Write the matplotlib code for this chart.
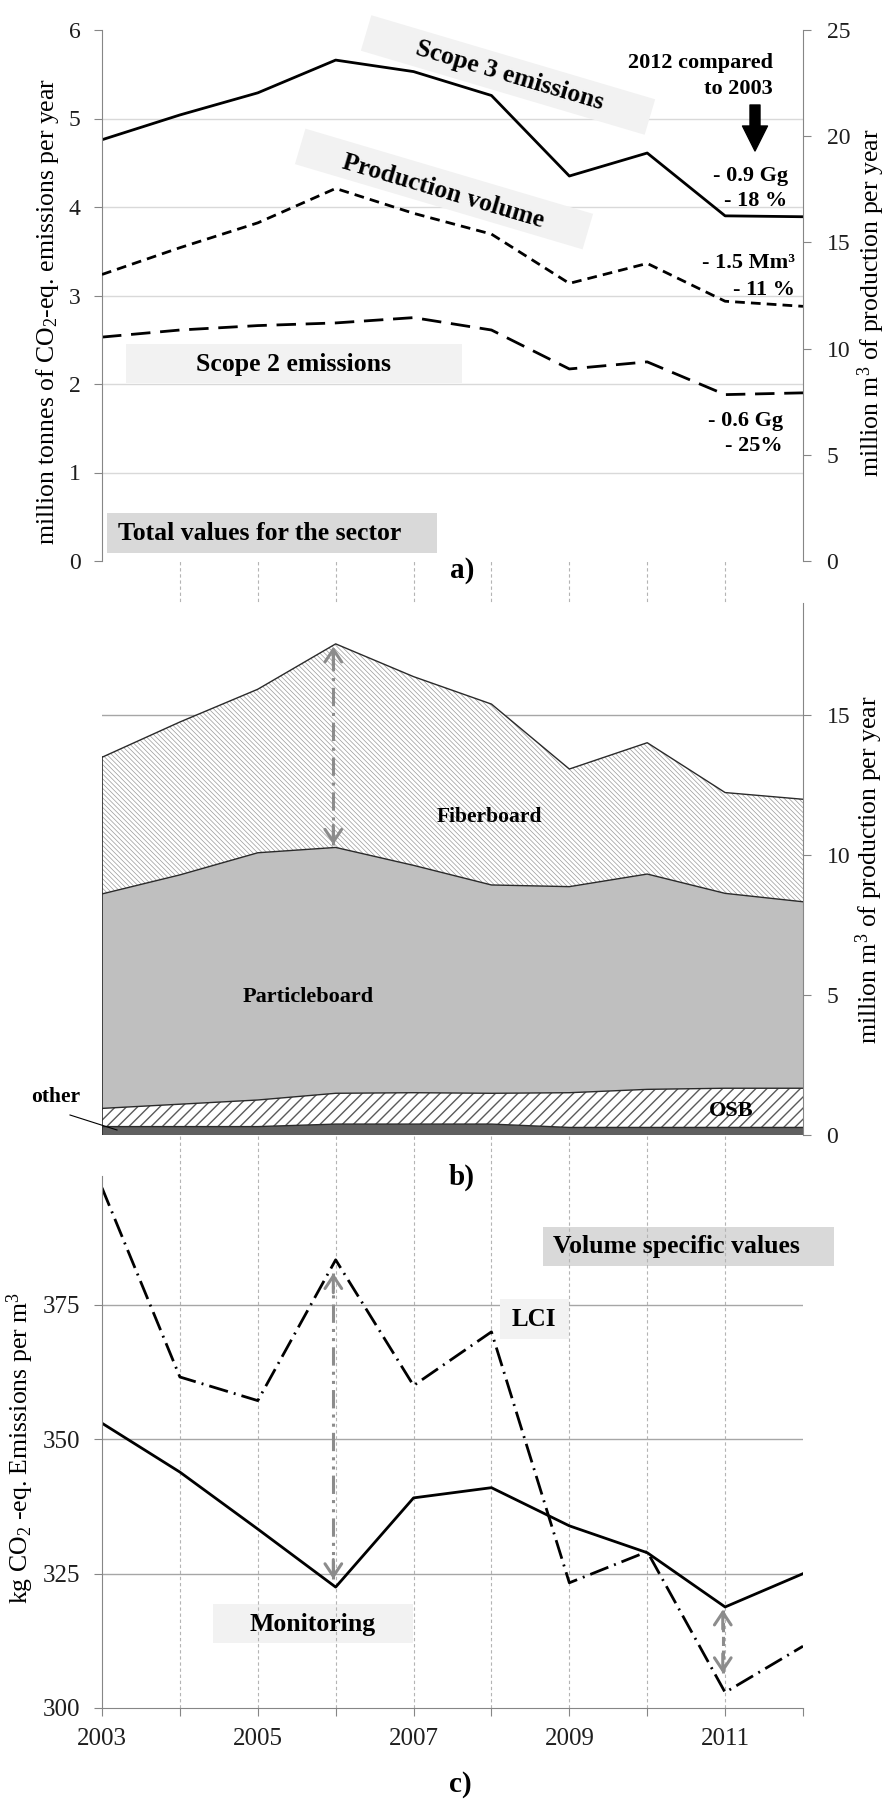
import numpy as np
import matplotlib
matplotlib.use("Agg")
import matplotlib.pyplot as plt
from matplotlib.patches import Rectangle
from matplotlib.lines import Line2D
from matplotlib.transforms import IdentityTransform

plt.rcParams['font.family'] = 'Liberation Serif'
plt.rcParams['mathtext.fontset'] = 'custom'
plt.rcParams['mathtext.rm'] = 'Liberation Serif'
plt.rcParams['mathtext.it'] = 'Liberation Serif:italic'
plt.rcParams['mathtext.bf'] = 'Liberation Serif:bold'
plt.rcParams['hatch.linewidth'] = 0.8

years = np.arange(2003, 2013)

# a) sector totals, million tonnes CO2-eq per year
scope3 = [4.76, 5.04, 5.29, 5.66, 5.53, 5.26, 4.35, 4.61, 3.90, 3.89]
scope2 = [2.53, 2.61, 2.66, 2.69, 2.75, 2.61, 2.17, 2.25, 1.88, 1.90]

# b) production per board type, million m3 per year
other = [0.30, 0.30, 0.30, 0.39, 0.39, 0.39, 0.27, 0.27, 0.27, 0.27]
osb = [0.65, 0.80, 0.95, 1.10, 1.12, 1.10, 1.24, 1.36, 1.40, 1.40]
particleboard = [7.66, 8.19, 8.83, 8.78, 8.12, 7.44, 7.36, 7.69, 6.96, 6.66]
fiberboard = [4.88, 5.46, 5.84, 7.27, 6.74, 6.46, 4.20, 4.69, 3.60, 3.66]

# c) volume specific values, kg CO2-eq per m3
monitoring = [353.0, 343.9, 333.3, 322.5, 339.1, 341.0, 333.9, 328.9, 318.8, 325.0]
lci = [396.8, 361.6, 357.2, 383.4, 360.0, 370.0, 323.3, 329.1, 302.9, 311.5]

tick_years = [2003, 2005, 2007, 2009, 2011]

# stacked layers
lay1 = np.array(other)
lay2 = lay1 + np.array(osb)
lay3 = lay2 + np.array(particleboard)
lay4 = lay3 + np.array(fiberboard)
production = lay4

W, H = 891, 1803
L, R = 102, 803
AXIS = '#868686'
TXT = '#1e1e1e'
ARROW = '#8c8c8c'
VGRID = dict(color='#b4b4b4', lw=0.8, ls=(0, (3, 2.5)))

fig = plt.figure(figsize=(W / 100, H / 100), dpi=100)


def add_panel(top, bottom):
    return fig.add_axes([L / W, 1 - bottom / H, (R - L) / W, (bottom - top) / H])


def put(x, y, s, size=18.5, weight='bold', **kw):
    kw.setdefault('ha', 'center')
    kw.setdefault('va', 'center')
    return fig.text(x / W, 1 - y / H, s, fontsize=size, fontweight=weight, color='k', **kw)


def shade(ax, cx, cy, w, h, fc, angle=0.0, z=0.4):
    ax.add_patch(Rectangle((cx - w / 2, H - cy - h / 2), w, h, angle=angle,
                           rotation_point='center', transform=IdentityTransform(),
                           fc=fc, ec='none', zorder=z, clip_on=False))


def double_arrow(ax, x, lo, hi, ls):
    ax.plot([x, x], [lo, hi], color=ARROW, lw=2.2, ls=ls, zorder=3,
            solid_capstyle='butt', dash_capstyle='butt')
    for tip, off in ((hi, -14), (lo, 14)):
        ax.annotate('', xy=(x, tip), xytext=(0, off), textcoords='offset points',
                    arrowprops=dict(arrowstyle='->,head_length=0.45,head_width=0.3',
                                    color=ARROW, lw=2.2, mutation_scale=20,
                                    shrinkA=0, shrinkB=0), zorder=3)


def change(series):
    d = series[0] - series[-1]
    return d, d / series[0] * 100


# dotted year lines showing between panels
bg = add_panel(561, 1176)
bg.set_xlim(2003, 2012)
bg.axis('off')
for yr in years[1:-1]:
    bg.axvline(yr, **VGRID)

# ---- a) totals ----
ax1 = add_panel(30, 561)
ax1.set_xlim(2003, 2012)
ax1.set_ylim(0, 6)
ax1.set_yticks(range(7))
for v in range(1, 6):
    ax1.axhline(v, color='#d9d9d9', lw=1, zorder=0.2)
ax1.plot(years, scope3, color='k', lw=2, zorder=2)
ax1.plot(years, scope2, color='k', lw=2, ls=(0, (7, 3.5)), zorder=2)

ax1r = ax1.twinx()
ax1r.set_ylim(0, 25)
ax1r.set_yticks(range(0, 26, 5))
ax1r.plot(years, production, color='k', lw=2, ls=(0, (3.5, 2.2)))

for a in (ax1, ax1r):
    a.spines['top'].set_visible(False)
    a.spines['bottom'].set_visible(False)
ax1.spines['right'].set_visible(False)
ax1r.spines['left'].set_visible(False)
ax1.spines['left'].set_color(AXIS)
ax1r.spines['right'].set_color(AXIS)
ax1.tick_params(axis='x', bottom=False, labelbottom=False)
ax1.tick_params(axis='y', length=5.5, color=AXIS, labelsize=17, pad=10, labelcolor=TXT)
ax1r.tick_params(axis='y', length=5.5, color=AXIS, labelsize=17, pad=11.5, labelcolor=TXT)

shade(ax1, 508, 75, 296, 37, '#f2f2f2', angle=-16.5)
shade(ax1, 444, 189, 300, 37, '#f2f2f2', angle=-16.5)
shade(ax1, 294, 363.5, 336, 39, '#f2f2f2')
shade(ax1, 272, 533, 330, 40, '#d9d9d9')

put(510, 76, 'Scope 3 emissions', rotation=-16.5, rotation_mode='anchor')
put(443, 191, 'Production volume', rotation=-16.5, rotation_mode='anchor')
put(293.5, 365, 'Scope 2 emissions')
put(118, 533, 'Total values for the sector', ha='left')

put(773, 63, '2012 compared', size=16, ha='right')
put(773, 89, 'to 2003', size=16, ha='right')
ax1.annotate('', xy=(755, H - 151), xytext=(755, H - 105),
             xycoords='figure pixels', textcoords='figure pixels',
             arrowprops=dict(arrowstyle='simple,head_length=0.75,head_width=0.75,tail_width=0.3',
                             fc='k', ec='k', mutation_scale=24, shrinkA=0, shrinkB=0))

d, p = change(scope3)
put(788, 176, '- %.1f Gg' % d, size=16, ha='right')
put(787, 201, '- %.0f %%' % p, size=16, ha='right')
d, p = change(production)
put(795, 263, '- %.1f Mm\u00b3' % d, size=16, ha='right')
put(795, 290, '- %.0f %%' % p, size=16, ha='right')
d, p = change(scope2)
put(783, 421, '- %.1f Gg' % d, size=16, ha='right')
put(783, 446, '- %.0f%%' % p, size=16, ha='right')

put(48, 311, 'million tonnes of CO$_2$-eq. emissions per year', size=18.5,
    weight='normal', rotation=90)
put(871, 303, 'million m$^3$ of production per year', size=18.5,
    weight='normal', rotation=90)
put(462, 571, 'a)', size=21)

# ---- b) production by board type ----
ax2 = add_panel(603, 1135)
ax2.set_xlim(2003, 2012)
ax2.set_ylim(0, 19)
for v in (5, 10, 15):
    ax2.axhline(v, color='#a6a6a6', lw=1, zorder=0.2)
ax2.fill_between(years, 0, lay1, facecolor='#606060', lw=0)
with plt.rc_context({'hatch.linewidth': 1.0}):
    ax2.fill_between(years, lay1, lay2, facecolor='white', edgecolor='#5a5a5a',
                     hatch='///', lw=0)
ax2.fill_between(years, lay2, lay3, facecolor='#bfbfbf', lw=0)
with plt.rc_context({'hatch.linewidth': 0.5}):
    ax2.fill_between(years, lay3, lay4, facecolor='white', edgecolor='#9a9a9a',
                     hatch='\\' * 7, lw=0)
for top in (lay1, lay2, lay3, lay4):
    ax2.plot(years, top, color='#2a2a2a', lw=1, zorder=2)
ax2.plot([2003, 2003], [0, lay4[0]], color='#2a2a2a', lw=1.2, zorder=2)

ax2.yaxis.tick_right()
ax2.set_yticks([0, 5, 10, 15])
for s in ('left', 'top', 'bottom'):
    ax2.spines[s].set_visible(False)
ax2.spines['right'].set_color(AXIS)
ax2.tick_params(axis='x', bottom=False, labelbottom=False)
ax2.tick_params(axis='y', length=5.5, color=AXIS, labelsize=17, pad=11.5, labelcolor=TXT)

double_arrow(ax2, 2006 - 0.03, lay3[3] + 0.1, lay4[3] - 0.1, (0, (6, 2.2, 1, 2.2)))

put(489, 817, 'Fiberboard', size=15.5)
put(308.5, 997, 'Particleboard', size=16)
put(731.5, 1111, 'OSB', size=16)
put(56, 1097, 'other', size=15.5)
fig.add_artist(Line2D([70 / W, 117 / W], [1 - 1115 / H, 1 - 1130 / H],
                      transform=fig.transFigure, color='k', lw=0.8))
put(869, 870, 'million m$^3$ of production per year', size=18.5,
    weight='normal', rotation=90)
put(462, 1177, 'b)', size=21)

# ---- c) volume specific values ----
ax3 = add_panel(1176, 1708)
ax3.set_xlim(2003, 2012)
ax3.set_ylim(300, 399)
ax3.set_yticks([300, 325, 350, 375])
ax3.set_xticks(years)
ax3.set_xticklabels([str(y) if y in tick_years else '' for y in years])
for v in (325, 350, 375):
    ax3.axhline(v, color='#a6a6a6', lw=1, zorder=0.2)
for yr in years[1:-1]:
    ax3.axvline(yr, zorder=0.6, **VGRID)
ax3.plot(years, monitoring, color='k', lw=2, zorder=2)
ax3.plot(years, lci, color='k', lw=2, ls=(0, (7, 2.2, 0.7, 2.2)), zorder=2)

for s in ('top', 'right'):
    ax3.spines[s].set_visible(False)
ax3.spines['left'].set_color(AXIS)
ax3.spines['bottom'].set_color(AXIS)
ax3.tick_params(length=5.5, color=AXIS, labelsize=18, labelcolor=TXT)
ax3.tick_params(axis='y', pad=10)
ax3.tick_params(axis='x', pad=9)

double_arrow(ax3, 2006 - 0.03, monitoring[3] + 1.5, lci[3] - 2.5,
             (0, (6, 2, 1, 2, 1, 2)))
double_arrow(ax3, 2011 - 0.03, lci[8] + 3.6, monitoring[8] - 0.5, (0, (3, 1.5)))

shade(ax3, 688, 1246.5, 291, 39, '#d9d9d9', z=0.4)
shade(ax3, 534.5, 1319, 69, 40, '#f2f2f2', z=0.4)
shade(ax3, 313, 1623.5, 200, 39, '#f2f2f2', z=0.4)
put(676, 1247, 'Volume specific values')
put(534, 1320, 'LCI', size=18)
put(313, 1625, 'Monitoring')

put(20, 1448, 'kg CO$_2$ -eq. Emissions per m$^3$', size=18.5,
    weight='normal', rotation=90)
put(460, 1785, 'c)', size=21)

fig.savefig('out.png', dpi=100)
